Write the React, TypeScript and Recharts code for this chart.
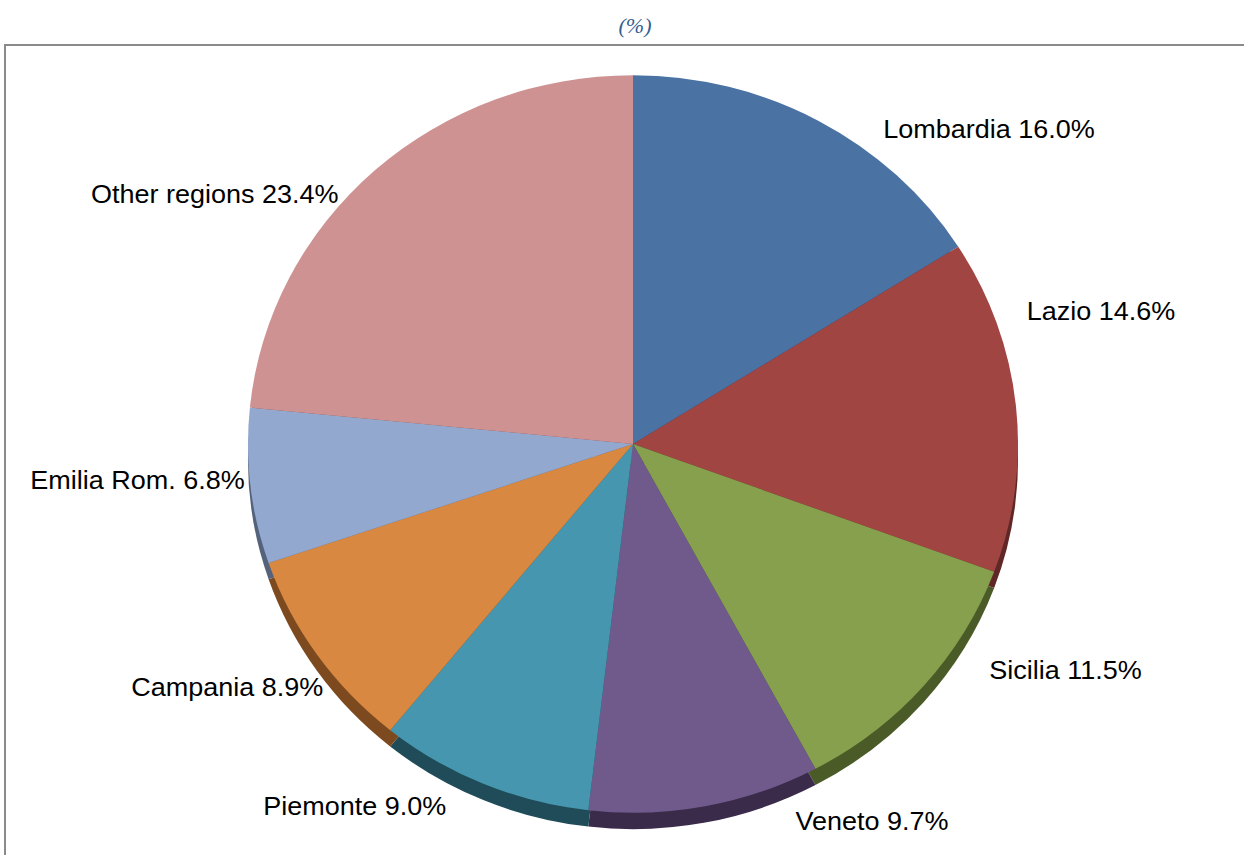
import { PieChart, Pie, Cell } from 'recharts';

// Regional shares (%), clockwise from 12 o'clock
const regions = ['Lombardia', 'Lazio', 'Sicilia', 'Veneto', 'Piemonte', 'Campania', 'Emilia Rom.', 'Other regions'];
const shares = [16.0, 14.6, 11.5, 9.7, 9.0, 8.9, 6.8, 23.4];

const faceColors = ['#4a72a3', '#a14543', '#86a04d', '#705a8b', '#4596ae', '#d88840', '#93a8cf', '#ce9292'];
const sideColors = ['#2c4566', '#5f2726', '#4b5b28', '#3a2b4a', '#1f4c58', '#7c4a1e', '#55627c', '#7c5252'];

// small nudges so labels sit where Excel's "best fit" put them
const labelNudge = [
  [56, 24],
  [-7, -96],
  [52, -28],
  [87, -2],
  [-30, 7],
  [21, 23],
  [12, -8],
  [-24, 38],
];

const data = regions.map((name, i) => ({ name, value: shares[i] }));

const RAD = Math.PI / 180;
const CX = 633;
const CY = 444;
const R = 385;
const DEPTH = 17;

function renderLabel(props: any) {
  const { cx, cy, midAngle, outerRadius, index } = props;
  const r = outerRadius + 18;
  const cos = Math.cos(-midAngle * RAD);
  const sin = Math.sin(-midAngle * RAD);
  const [dx, dy] = labelNudge[index];
  const x = cx + r * cos + dx;
  const y = cy + r * sin + dy;
  return (
    <text
      x={x}
      y={y}
      textAnchor={cos >= 0 ? 'start' : 'end'}
      dominantBaseline="central"
      fill="#000"
      fontSize={27}
      fontFamily="'Liberation Sans', Arial, sans-serif"
    >
      {`${regions[index]} ${shares[index].toFixed(1)}%`}
    </text>
  );
}

export default function App() {
  return (
    <div
      style={{
        position: 'absolute',
        left: 0,
        top: 0,
        width: 1244,
        height: 855,
        overflow: 'hidden',
        background: '#fff',
      }}
    >
      <div
        style={{
          position: 'absolute',
          left: 0,
          width: 1244,
          top: 13,
          textAlign: 'center',
          fontFamily: "'Liberation Serif', serif",
          fontStyle: 'italic',
          fontSize: 22,
          color: '#365f91',
          paddingLeft: 26,
          boxSizing: 'border-box',
        }}
      >
        (%)
      </div>
      <div
        style={{
          position: 'absolute',
          left: 4,
          top: 44,
          width: 1300,
          height: 900,
          border: '2px solid #8a8a8a',
        }}
      />
      <div
        style={{
          position: 'absolute',
          left: 0,
          top: 0,
          width: 1244,
          height: 855,
          transform: 'scaleY(0.958)',
          transformOrigin: `${CX}px ${CY}px`,
        }}
      >
        <PieChart width={1244} height={855} margin={{ top: 0, right: 0, bottom: 0, left: 0 }}>
          <Pie
            data={data}
            dataKey="value"
            cx={CX}
            cy={CY + DEPTH}
            outerRadius={R}
            startAngle={90}
            endAngle={-270}
            stroke="none"
            isAnimationActive={false}
          >
            {data.map((d, i) => (
              <Cell key={d.name} fill={sideColors[i]} />
            ))}
          </Pie>
          <Pie
            data={data}
            dataKey="value"
            cx={CX}
            cy={CY}
            outerRadius={R}
            startAngle={90}
            endAngle={-270}
            stroke="none"
            label={renderLabel}
            labelLine={false}
            isAnimationActive={false}
          >
            {data.map((d, i) => (
              <Cell key={d.name} fill={faceColors[i]} />
            ))}
          </Pie>
        </PieChart>
      </div>
    </div>
  );
}
